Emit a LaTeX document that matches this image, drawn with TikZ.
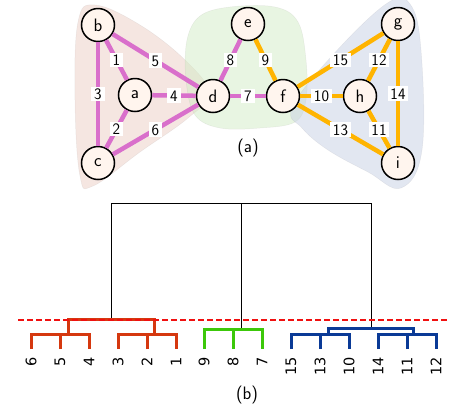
\documentclass[tikz,border=0pt]{standalone}
\usepackage{fontspec}
\newfontfamily\djfont{DejaVu Sans}
\definecolor{nodefill}{HTML}{FFF5EE}
\definecolor{medgec}{HTML}{D96FCB}
\definecolor{oedgec}{HTML}{FFB400}
\definecolor{blobred}{HTML}{EBCDC4}
\definecolor{blobgreen}{HTML}{D2ECC5}
\definecolor{blobblue}{HTML}{C6CFE4}
\definecolor{dred}{HTML}{D5380F}
\definecolor{dgreen}{HTML}{3CC80A}
\definecolor{dblue}{HTML}{0A3A96}
\definecolor{cutred}{HTML}{F01010}
\begin{document}
\begin{tikzpicture}[x=1pt,y=-1pt,
  vtx/.style={circle,draw=black,line width=1.5pt,fill=nodefill,minimum size=33pt,inner sep=0pt,font=\sffamily\fontsize{18}{20}\selectfont},
  lbl/.style={fill=white,inner xsep=2.8pt,inner ysep=1.6pt,text height=11pt,text depth=0pt,font=\sffamily\fontsize{16}{18}\selectfont},
  medge/.style={draw=medgec,line width=4.5pt},
  oedge/.style={draw=oedgec,line width=4.5pt},
  blob/.style={fill opacity=0.5,line width=0.5pt,draw opacity=0.12},
  dend/.style={line width=3pt},
  blk/.style={draw=black,line width=0.8pt},
  leaf/.style={rotate=90,anchor=east,inner sep=0pt,font=\djfont\fontsize{14.5}{16}\selectfont},
  captext/.style={font=\sffamily\fontsize{18}{20}\selectfont}]
\useasboundingbox (0,0) rectangle (450,408);
% blobs
\path[blob,fill=blobred,draw=gray] plot[smooth cycle,tension=0.65] coordinates {(95,5) (140,25) (185,60) (209,93) (188,118) (140,152) (93,186) (80,176) (75,100) (78,22)};
\path[blob,fill=blobgreen,draw=gray] plot[smooth cycle,tension=0.6] coordinates {(230,7) (275,7) (298,22) (306,60) (306,100) (295,122) (260,128) (220,128) (195,115) (186,80) (187,40) (200,16)};
\path[blob,fill=blobblue,draw=gray] plot[smooth cycle,tension=0.65] coordinates {(292,108) (330,58) (386,4) (410,4) (421,50) (422,150) (401,188) (368,172) (328,150) (302,128)};
% nodes
\node[vtx] (b) at (98,25) {b};
\node[vtx] (a) at (135,95) {a};
\node[vtx] (c) at (98,163) {c};
\node[vtx] (d) at (213,96) {d};
\node[vtx] (e) at (248,24) {e};
\node[vtx] (f) at (283,96) {f};
\node[vtx] (g) at (398,24) {g};
\node[vtx] (h) at (360,96) {h};
\node[vtx] (i) at (398,163) {i};
% edges
\draw[medge] (b) -- (a) node[midway,lbl]{1};
\draw[medge] (b) -- (d) node[midway,lbl]{5};
\draw[medge] (b) -- (c) node[midway,lbl]{3};
\draw[medge] (a) -- (d) node[midway,lbl]{4};
\draw[medge] (a) -- (c) node[midway,lbl]{2};
\draw[medge] (c) -- (d) node[midway,lbl]{6};
\draw[medge] (d) -- (f) node[midway,lbl]{7};
\draw[medge] (d) -- (e) node[midway,lbl]{8};
\draw[oedge] (e) -- (f) node[midway,lbl]{9};
\draw[oedge] (f) -- (h) node[midway,lbl]{10};
\draw[oedge] (h) -- (i) node[midway,lbl]{11};
\draw[oedge] (g) -- (h) node[midway,lbl]{12};
\draw[oedge] (f) -- (i) node[midway,lbl]{13};
\draw[oedge] (g) -- (i) node[midway,lbl]{14};
\draw[oedge] (f) -- (g) node[midway,lbl]{15};
\node[captext] (capa) at (248,148) {(a)};
% dendrogram
\draw[blk] (111,319) -- (111,203) -- (371,203) -- (371,328);
\draw[blk] (241,203) -- (241,329);
\draw[dend,draw=dred] (31,349) -- (31,334) -- (89,334) -- (89,349);
\draw[dend,draw=dred] (60,349) -- (60,334);
\draw[dend,draw=dred] (118,349) -- (118,334) -- (176,334) -- (176,349);
\draw[dend,draw=dred] (147,349) -- (147,334);
\draw[dend,draw=dred] (68,334) -- (68,319) -- (154,319) -- (154,334);
\draw[dend,draw=dgreen] (204,349) -- (204,329) -- (262,329) -- (262,349);
\draw[dend,draw=dgreen] (233,349) -- (233,329);
\draw[dend,draw=dblue] (291,349) -- (291,334) -- (349,334) -- (349,349);
\draw[dend,draw=dblue] (320,349) -- (320,334);
\draw[dend,draw=dblue] (378,349) -- (378,334) -- (436,334) -- (436,349);
\draw[dend,draw=dblue] (407,349) -- (407,334);
\draw[dend,draw=dblue] (328,334) -- (328,328) -- (413,328) -- (413,334);
\draw[draw=cutred,line width=2.5pt,dash pattern=on 6pt off 3pt] (18,320) -- (450,320);
\node[leaf] (l6) at (31,357) {6};
\node[leaf] (l5) at (60,357) {5};
\node[leaf] (l4) at (89,357) {4};
\node[leaf] (l3) at (118,357) {3};
\node[leaf] (l2) at (147,357) {2};
\node[leaf] (l1) at (176,357) {1};
\node[leaf] (l9) at (204,357) {9};
\node[leaf] (l8) at (233,357) {8};
\node[leaf] (l7) at (262,357) {7};
\node[leaf] (l15) at (291,357) {15};
\node[leaf] (l13) at (320,357) {13};
\node[leaf] (l10) at (349,357) {10};
\node[leaf] (l14) at (378,357) {14};
\node[leaf] (l11) at (407,357) {11};
\node[leaf] (l12) at (436,357) {12};
\node[captext] (capb) at (247,395) {(b)};
\end{tikzpicture}
\end{document}
